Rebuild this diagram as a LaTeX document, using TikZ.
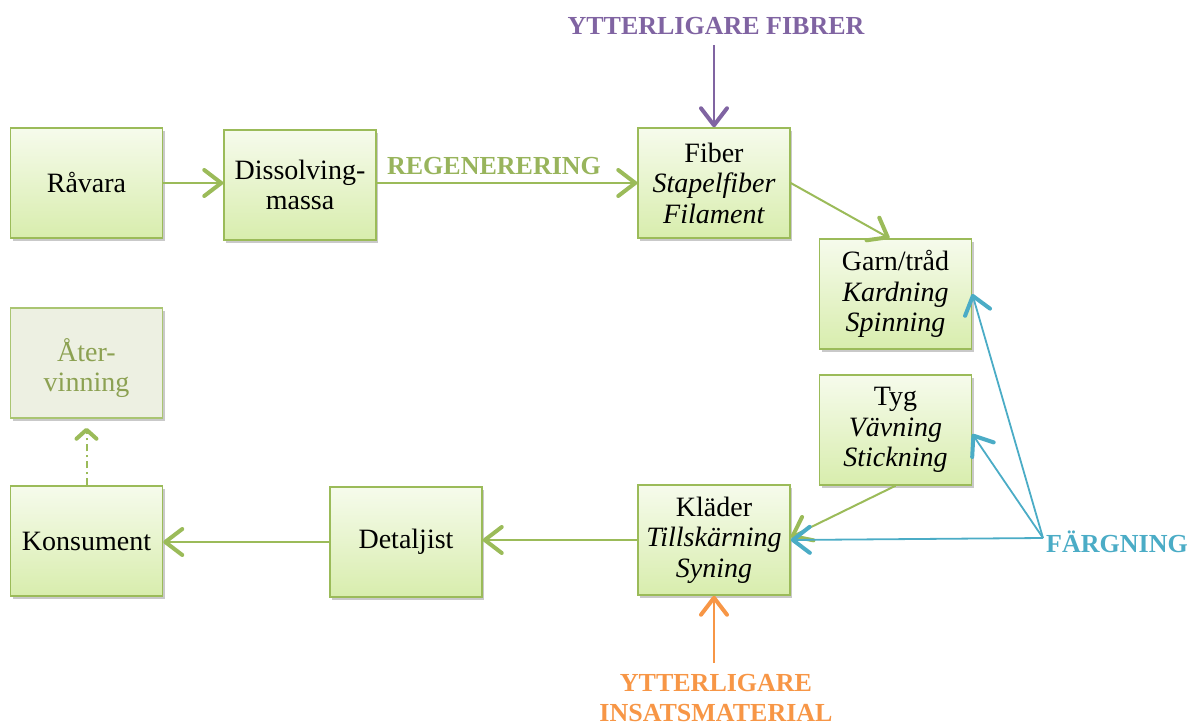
\documentclass[tikz,border=0pt]{standalone}
\usepackage{fontspec}
\setmainfont{Liberation Serif}
\usetikzlibrary{arrows.meta,shadows}
\definecolor{grn}{HTML}{9BBB59}
\definecolor{grnlab}{HTML}{98B45C}
\definecolor{boxtop}{HTML}{F6FBEC}
\definecolor{boxbot}{HTML}{D8EDAD}
\definecolor{recfill}{HTML}{EDF0E2}
\definecolor{rectext}{HTML}{8CA152}
\definecolor{purp}{HTML}{8064A2}
\definecolor{blu}{HTML}{4BACC6}
\definecolor{ora}{HTML}{F79646}
\begin{document}
\begin{tikzpicture}[x=1pt,y=-1pt,
  box/.style={draw=grn, line width=1.5pt, top color=boxtop, bottom color=boxbot,
    minimum width=152pt, minimum height=110pt, inner sep=0pt, align=center,
    font=\fontsize{28}{30.5}\selectfont,
    drop shadow={shadow xshift=2pt, shadow yshift=-3pt, opacity=0.3, fill=black!70}},
  recbox/.style={box, top color=recfill, bottom color=recfill, draw=grn!85!white},
  rectxt/.style={text=rectext, align=center, inner sep=0pt, font=\fontsize{28}{30.5}\selectfont},
  lab/.style={font=\fontsize{26}{30}\selectfont\bfseries, align=center, inner sep=0pt},
  tip/.style={-{Straight Barb[length=17pt,width=26pt,line width=4pt,round]}},
  gline/.style={tip, draw=grn, line width=2pt},
  bline/.style={tip, draw=blu, line width=1.8pt},
  pline/.style={tip, draw=purp, line width=2pt},
  oline/.style={tip, draw=ora, line width=2.2pt}]
\useasboundingbox (0,0) rectangle (1201,727);

\node[box] (rav) at (86.5,183) {Råvara};
\node[box] (dis) at (300,185) {Dissolving-\\massa};
\node[box] (fib) at (714,183) {Fiber\\\textit{Stapelfiber}\\\textit{Filament}};
\node[box] (garn) at (895.5,294) {Garn/tråd\\\textit{Kardning}\\\textit{Spinning}};
\node[box] (tyg) at (895.5,430) {Tyg\\\textit{Vävning}\\\textit{Stickning}};
\node[box] (kla) at (714,540) {Kläder\\\textit{Tillskärning}\\\textit{Syning}};
\node[box] (det) at (406,542) {Detaljist};
\node[box] (kon) at (86.5,541) {Konsument};
\node[recbox] (ater) at (86.5,363) {};
\node[rectxt] (atertxt) at (86.5,368) {Åter-\\vinning};

\node[lab, text=grnlab] (reg) at (494,166) {REGENERERING};
\node[lab, text=purp] (yf) at (716,26) {YTTERLIGARE FIBRER};
\node[lab, text=blu, anchor=west] (farg) at (1046,542) {FÄRGNING};
\node[lab, text=ora] (yi) at (716,698) {YTTERLIGARE\\INSATSMATERIAL};
\coordinate (fp) at (1043,538);

\draw[gline] (rav.east) -- (rav.east -| dis.west);
\draw[gline] (dis.east |- fib.east) -- (fib.west);
\draw[gline] (fib.east) -- ([xshift=-6pt]garn.north);
\draw[gline] (tyg.south) -- ([yshift=3pt]kla.east);
\draw[gline] (kla.west) -- (kla.west -| det.east);
\draw[gline] (det.west) -- (det.west -| kon.east);
\draw[draw=grn, line width=2pt, dash pattern=on 7pt off 4pt on 2pt off 4pt,
  -{Straight Barb[length=9pt,width=20pt,line width=4pt,round]}]
  (kon.north) -- ([yshift=-9pt]ater.south);
\draw[pline] (fib.north |- 0,45) -- (fib.north);
\draw[oline] (kla.south |- 0,663) -- (kla.south);
\draw[bline] (fp) -- (kla.east);
\draw[bline] (fp) -- ([yshift=-4pt]tyg.east);
\draw[bline] (fp) -- (garn.east);
\end{tikzpicture}
\end{document}
